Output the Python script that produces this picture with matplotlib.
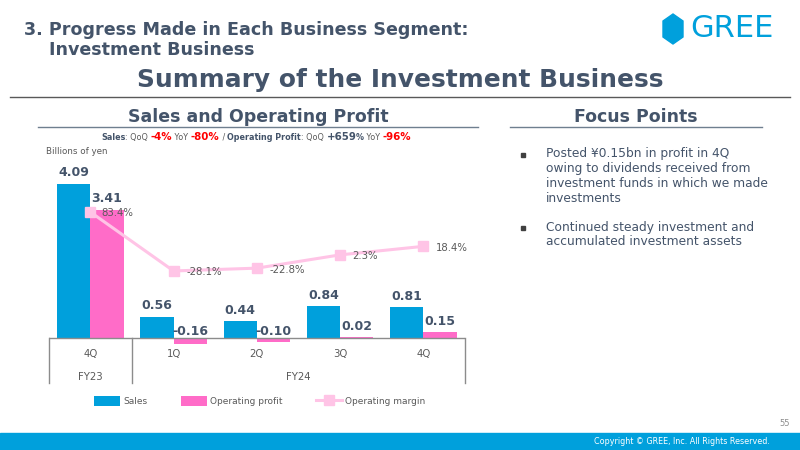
import matplotlib
matplotlib.use('Agg')
import matplotlib.pyplot as plt
from matplotlib.patches import Polygon, Rectangle
from matplotlib.lines import Line2D

# data
quarters = ['4Q', '1Q', '2Q', '3Q', '4Q']
sales = [4.09, 0.56, 0.44, 0.84, 0.81]
op_profit = [3.41, -0.16, -0.10, 0.02, 0.15]
op_margin = [83.4, -28.1, -22.8, 2.3, 18.4]
margin_labels = ['83.4%', '-28.1%', '-22.8%', '2.3%', '18.4%']
bullets = ['Posted ¥0.15bn in profit in 4Q\nowing to dividends received from\ninvestment funds in which we made\ninvestments',
           'Continued steady investment and\naccumulated investment assets']

BLUE = '#00A0DC'
PINK = '#FF6CC8'
LPINK = '#FFC4E6'
DARK = '#44546A'
GRAY = '#595959'
RED = '#FF0000'
HEAD = ['Liberation Sans Narrow', 'DejaVu Sans']

W, H = 800, 450
fig = plt.figure(figsize=(8, 4.5), dpi=100)
X = lambda px: px / W
Y = lambda py: 1 - py / H
r = fig.canvas.get_renderer()


def fit(t, width_px):
    # shrink/grow a text so it spans the width seen in the slide
    w = t.get_window_extent(r).width
    t.set_fontsize(t.get_fontsize() * width_px / w)


# header
t = fig.text(X(24), Y(30), '3. Progress Made in Each Business Segment:', family=HEAD, fontsize=15,
             fontweight='bold', color=DARK, va='center')
fit(t, 446)
fs_head = t.get_fontsize()
fig.text(X(49), Y(50), 'Investment Business', family=HEAD, fontsize=fs_head, fontweight='bold', color=DARK,
         va='center')
t = fig.text(X(400), Y(80), 'Summary of the Investment Business', family=HEAD, fontsize=19, fontweight='bold',
             color=DARK, va='center', ha='center')
fit(t, 526)
fig.add_artist(Line2D([X(10), X(790)], [Y(97), Y(97)], color='#595959', lw=1))

# logo
hx, hy = 673, 29
fig.add_artist(Polygon([(X(hx), Y(hy - 15)), (X(hx + 10), Y(hy - 8)), (X(hx + 10), Y(hy + 8)),
                        (X(hx), Y(hy + 15)), (X(hx - 10), Y(hy + 8)), (X(hx - 10), Y(hy - 8))],
                       closed=True, color=BLUE))
t = fig.text(X(690), Y(28.5), 'GREE', family=HEAD, fontsize=21, color=BLUE, va='center')
fit(t, 83)

# section headings
t = fig.text(X(258), Y(117), 'Sales and Operating Profit', fontsize=12.5, fontweight='bold', color=DARK,
             ha='center', va='center')
fit(t, 261)
fig.add_artist(Line2D([X(38), X(478)], [Y(126.5), Y(126.5)], color='#6F7F8F', lw=1))
fig.text(X(636), Y(117), 'Focus Points', fontsize=t.get_fontsize(), fontweight='bold', color=DARK,
         ha='center', va='center')
fig.add_artist(Line2D([X(510), X(762)], [Y(126.5), Y(126.5)], color='#6F7F8F', lw=1))

# growth line made of pieces, placed one after another
pieces = [('Sales', 5.8, 'bold', DARK), (': QoQ ', 5.8, 'normal', GRAY), ('-4%', 7.4, 'bold', RED),
          (' YoY ', 5.8, 'normal', GRAY), ('-80%', 7.4, 'bold', RED), (' / ', 5.8, 'normal', GRAY),
          ('Operating Profit', 5.8, 'bold', DARK), (': QoQ ', 5.8, 'normal', GRAY), ('+659', 7.4, 'bold', DARK),
          ('%', 5.8, 'bold', DARK), (' YoY ', 5.8, 'normal', GRAY), ('-96%', 7.4, 'bold', RED)]
xcur = 101
for txt, fs, fw, c in pieces:
    t = fig.text(X(xcur), Y(140), txt, fontsize=fs, fontweight=fw, color=c, va='baseline', ha='left')
    xcur = t.get_window_extent(r).x1

fig.text(X(46), Y(152), 'Billions of yen', fontsize=6.3, color=GRAY, va='center')

# chart
ax = fig.add_axes([X(48.7), Y(350), (465 - 48.7) / W, 200 / H])
idx = list(range(len(quarters)))
bw = 0.4
b1 = ax.bar([i - bw / 2 for i in idx], sales, bw, color=BLUE, label='Sales')
b2 = ax.bar([i + bw / 2 for i in idx], op_profit, bw, color=PINK, label='Operating profit')
ax.set_xlim(-0.5, len(quarters) - 0.5)
ax.set_ylim(-0.319, 4.993)
ax.axhline(0, color='#8C8C8C', lw=1)
ax.axis('off')

for i in idx:
    ax.annotate(f'{sales[i]:.2f}', (i - bw / 2, sales[i]), xytext=(0, 8), textcoords='offset points',
                ha='center', va='center', fontsize=9, fontweight='bold', color=DARK)
    v = op_profit[i]
    ax.annotate(f'{v:.2f}', (i + bw / 2, max(v, 0)), xytext=(0, 8 if v >= 0 else 4.5),
                textcoords='offset points', ha='center', va='center', fontsize=9, fontweight='bold', color=DARK)

ax2 = ax.twinx()
ax2.set_ylim(-177.5, 200.5)
ln, = ax2.plot(idx, op_margin, color=LPINK, lw=2.2, marker='s', markersize=7, label='Operating margin')
for i in idx:
    dx = 8 if i == 0 else 9
    ax2.annotate(margin_labels[i], (i, op_margin[i]), xytext=(dx, -1), textcoords='offset points',
                 ha='left', va='center', fontsize=7.3, color=GRAY)
ax2.axis('off')

# category table under axis
tr = ax.get_xaxis_transform()
for xv in [-0.5, 0.5, len(quarters) - 0.5]:
    ax.plot([xv, xv], [0.06, -0.165], transform=tr, color='#8C8C8C', lw=1, clip_on=False)
for i in idx:
    ax.text(i, -0.02, quarters[i], transform=tr, ha='center', va='center', fontsize=7.3, color=GRAY)
ax.text(0, -0.135, 'FY23', transform=tr, ha='center', va='center', fontsize=7.3, color=GRAY)
ax.text((1 + len(quarters) - 1) / 2, -0.135, 'FY24', transform=tr, ha='center', va='center', fontsize=7.3,
        color=GRAY)

fig.legend(handles=[b1, b2, ln], loc='center left', bbox_to_anchor=(X(94), Y(401)), ncol=3, frameon=False,
           fontsize=6.5, labelcolor=GRAY, handlelength=2.9, handleheight=1.4, columnspacing=3.7,
           handletextpad=0.35, borderpad=0, borderaxespad=0)

# focus points
ys = [155, 228]
for b, yb in zip(bullets, ys):
    fig.add_artist(Rectangle((X(521), Y(yb + 2)), 4 / W, 4 / H, color='#404040'))
    fig.text(X(546), Y(yb - 7.5), b, fontsize=8.8, color=DARK, va='top', linespacing=1.18)

# footer
fig.add_artist(Rectangle((0, 0), 1, 17 / H, color=BLUE))
fig.text(X(770), Y(441.5), 'Copyright © GREE, Inc. All Rights Reserved.', fontsize=5.8, color='white',
         ha='right', va='center')
fig.text(X(790), Y(424), '55', fontsize=6, color='#8C8C8C', ha='right', va='center')

fig.savefig('out.png', dpi=100)
